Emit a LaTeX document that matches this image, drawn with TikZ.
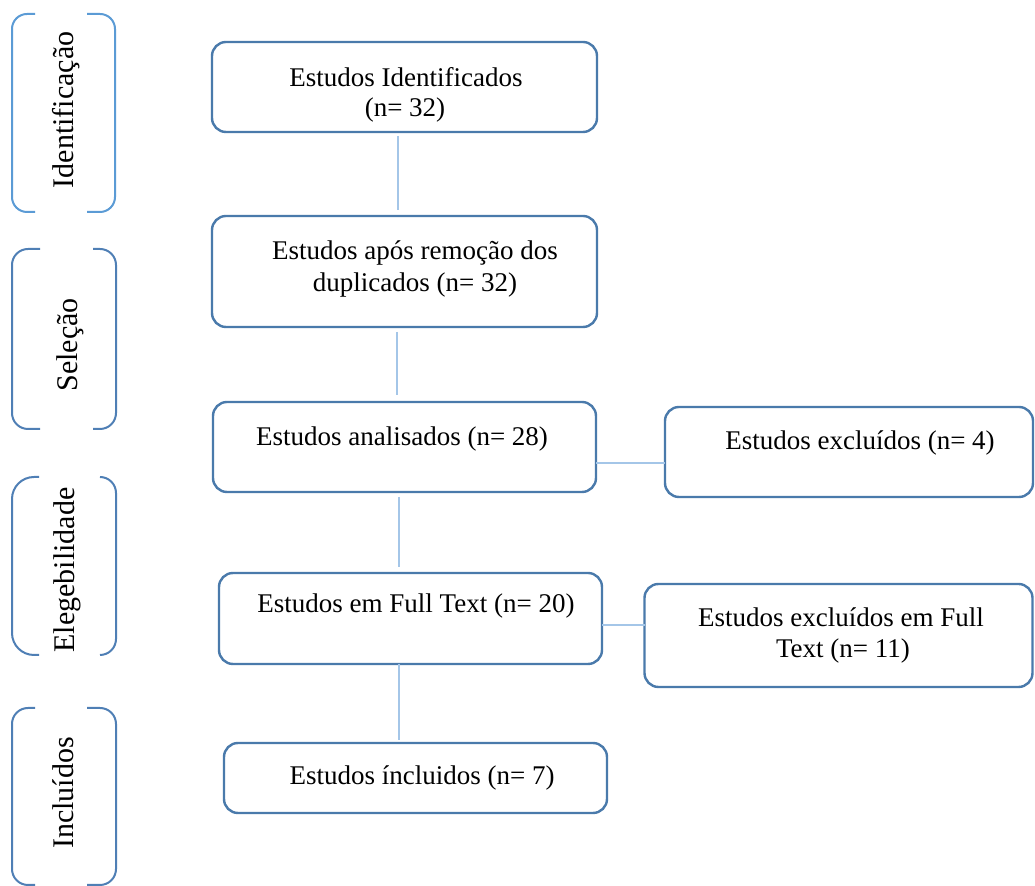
\documentclass[tikz,border=0pt]{standalone}
\usepackage{fontspec}
\setmainfont{Liberation Serif}
\definecolor{boxc}{HTML}{4A7AAB}
\definecolor{conc}{HTML}{A4C6E8}
\definecolor{brA}{HTML}{5B9BD5}
\definecolor{brB}{HTML}{4F7FB5}
\tikzset{
  flowbox/.style={draw=boxc, line width=1.2pt, rounded corners=7pt, inner sep=0pt, outer sep=0pt, fill=white},
  conn/.style={draw=conc, line width=1pt},
  txt/.style={anchor=base, inner sep=0pt, font=\fontsize{13.5}{15}\selectfont},
  side/.style={anchor=base, rotate=90, inner sep=0pt, font=\fontsize{15}{17}\selectfont},
  brk/.style={line width=1pt}
}
\begin{document}
\begin{tikzpicture}[x=0.5pt,y=-0.5pt]
\useasboundingbox (0,0) rectangle (1035,886);

% side brackets
\draw[brk, draw=brA, rounded corners=7.5pt] (35,14) -- (12,14) -- (12,212) -- (35,212);
\draw[brk, draw=brA, rounded corners=7.5pt] (87,14) -- (115,14) -- (115,212) -- (87,212);
\draw[brk, draw=brB, rounded corners=8pt] (40,249) -- (12,249) -- (12,429) -- (40,429);
\draw[brk, draw=brB, rounded corners=8pt] (93,249) -- (116,249) -- (116,429) -- (93,429);
\draw[brk, draw=brB, rounded corners=11pt] (39,477) -- (12,477) -- (12,655) -- (39,655);
\draw[brk, draw=brB, rounded corners=8pt] (100,477) -- (116,477) -- (116,655) -- (100,655);
\draw[brk, draw=brB, rounded corners=8pt] (35,708) -- (12,708) -- (12,885) -- (35,885);
\draw[brk, draw=brB, rounded corners=8pt] (87,708) -- (116,708) -- (116,885) -- (87,885);

\node[side] (s1) at (74,110) {Identificação};
\node[side] (s2) at (77,345) {Seleção};
\node[side] (s3) at (75,570) {Elegebilidade};
\node[side] (s4) at (73,793) {Incluídos};

% boxes
\node[flowbox, minimum width=192.5pt, minimum height=45pt] (b1) at (404.5,87) {};
\node[flowbox, minimum width=192.5pt, minimum height=55.5pt] (b2) at (404.5,271.5) {};
\node[flowbox, minimum width=191.5pt, minimum height=45pt] (b3) at (404.5,447) {};
\node[flowbox, minimum width=184pt, minimum height=45pt] (b4) at (849,452) {};
\node[flowbox, minimum width=191.5pt, minimum height=45.5pt] (b5) at (410.5,618.5) {};
\node[flowbox, minimum width=194pt, minimum height=51.5pt] (b6) at (838.5,635.5) {};
\node[flowbox, minimum width=191.5pt, minimum height=35pt] (b7) at (415.5,778) {};

% texts
\node[txt] (t1a) at (406,87) {Estudos Identificados};
\node[txt] (t1b) at (405,117) {(n= 32)};
\node[txt] (t2a) at (415,260) {Estudos após remoção dos};
\node[txt] (t2b) at (415,292) {duplicados (n= 32)};
\node[txt] (t3) at (402,446) {Estudos analisados (n= 28)};
\node[txt] (t4) at (860,450) {Estudos excluídos (n= 4)};
\node[txt] (t5) at (416,613) {Estudos em Full Text (n= 20)};
\node[txt] (t6a) at (841,627) {Estudos excluídos em Full};
\node[txt] (t6b) at (843,658) {Text (n= 11)};
\node[txt] (t7) at (422,785) {Estudos íncluidos (n= 7)};

% connectors
\draw[conn, shorten <=2pt, shorten >=3pt] ([xshift=-3.25pt]b1.south) -- ([xshift=-3.25pt]b1.south |- b2.north);
\draw[conn, shorten <=2.5pt, shorten >=3.5pt] ([xshift=-3.75pt]b2.south) -- ([xshift=-3.75pt]b2.south |- b3.north);
\draw[conn, shorten <=2.5pt, shorten >=3pt] ([xshift=-2.75pt]b3.south) -- ([xshift=-2.75pt]b3.south |- b5.north);
\draw[conn, shorten >=1.5pt] ([xshift=-5.75pt]b5.south) -- ([xshift=-5.75pt]b5.south |- b7.north);
\draw[conn] ([yshift=-8pt]b3.east) -- ([yshift=-8pt]b3.east -| b4.west);
\draw[conn] ([yshift=-3.25pt]b5.east) -- ([yshift=-3.25pt]b5.east -| b6.west);
\end{tikzpicture}
\end{document}
